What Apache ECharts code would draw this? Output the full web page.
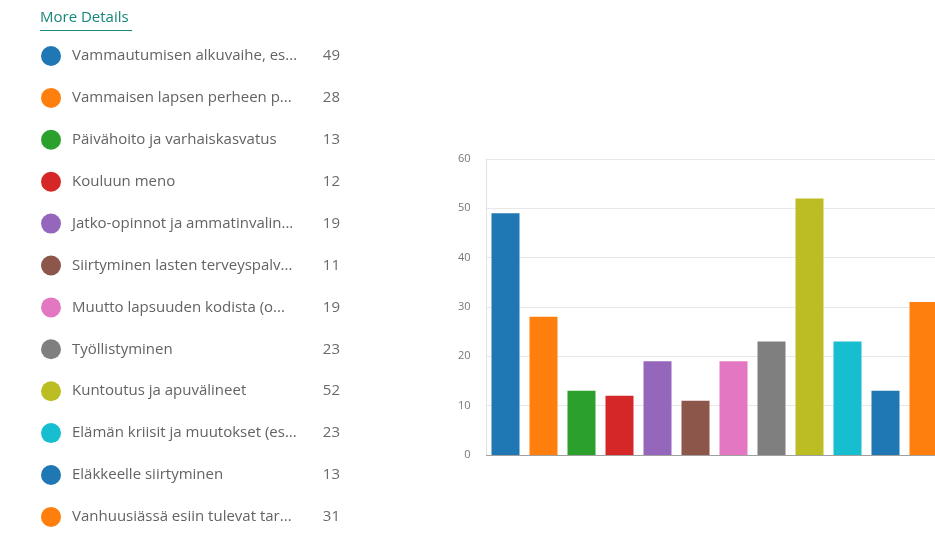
<!DOCTYPE html>
<html>
<head>
<meta charset="utf-8">
<script src="https://cdn.jsdelivr.net/npm/echarts@6/dist/echarts.min.js"></script>
<style>
html,body{margin:0;padding:0;background:#fff;}
#main{width:935px;height:537px;}
</style>
</head>
<body>
<div id="main"></div>
<script>
var categories = [
  "Vammautumisen alkuvaihe, es...",
  "Vammaisen lapsen perheen p...",
  "Päivähoito ja varhaiskasvatus",
  "Kouluun meno",
  "Jatko-opinnot ja ammatinvalin...",
  "Siirtyminen lasten terveyspalv...",
  "Muutto lapsuuden kodista (o...",
  "Työllistyminen",
  "Kuntoutus ja apuvälineet",
  "Elämän kriisit ja muutokset (es...",
  "Eläkkeelle siirtyminen",
  "Vanhuusiässä esiin tulevat tar..."
];
var values = [49, 28, 13, 12, 19, 11, 19, 23, 52, 23, 13, 31];
var colors = ["#1f77b4","#ff7f0e","#2ca02c","#d62728","#9467bd","#8c564b","#e377c2","#7f7f7f","#bcbd22","#17becf","#1f77b4","#ff7f0e"];
var yTicks = [0, 10, 20, 30, 40, 50, 60];

var chart = echarts.init(document.getElementById('main'), null, {renderer:'canvas'});

var series = categories.map(function(name, i){
  var d = categories.map(function(_, j){ return j === i ? values[i] : null; });
  return {
    name: name,
    type: 'bar',
    stack: 'all',
    barWidth: 28,
    data: d,
    itemStyle: {color: colors[i]},
    emphasis: {disabled: true}
  };
});

var valueByName = {};
categories.forEach(function(c, i){ valueByName[c] = values[i]; });

chart.setOption({
  animation: false,
  color: colors,
  grid: {left: 486.5, width: 456, top: 159, height: 296, containLabel: false, outerBoundsMode: 'none'},
  legend: {
    orient: 'vertical',
    left: 41,
    top: 46,
    padding: 0,
    icon: 'circle',
    itemWidth: 20,
    itemHeight: 20,
    itemGap: 21.9,
    selectedMode: false,
    data: categories,
    formatter: function(name){
      return '{n|' + name + '}{v|' + valueByName[name] + '}';
    },
    textStyle: {
      fontFamily: 'Open Sans',
      fontSize: 15,
      color: '#636363',
      padding: [0, 0, 0, 6],
      rich: {
        n: {width: 245, fontFamily: 'Open Sans', fontSize: 15, color: '#636363'},
        v: {width: 23, align: 'right', fontFamily: 'Open Sans', fontSize: 15, color: '#6a6a6a'}
      }
    }
  },
  graphic: [
    {type: 'text', left: 40, top: 10, style: {text: 'More Details', fontFamily: 'Open Sans', fontSize: 15, fill: '#16877a'}},
    {type: 'rect', left: 40, top: 30, shape: {width: 92, height: 1}, style: {fill: '#16877a'}}
  ],
  xAxis: {
    type: 'category',
    data: categories,
    axisLine: {show: true, lineStyle: {color: '#a0a0a0', width: 1}},
    axisTick: {show: false},
    axisLabel: {show: false},
    splitLine: {show: false}
  },
  yAxis: {
    type: 'value',
    min: yTicks[0],
    max: yTicks[yTicks.length - 1],
    interval: yTicks[1] - yTicks[0],
    axisLine: {show: true, lineStyle: {color: '#e2e2e2'}},
    axisTick: {show: false},
    axisLabel: {margin: 16, fontFamily: 'Open Sans', fontSize: 11, color: '#777'},
    splitLine: {lineStyle: {color: '#e8e8e8'}}
  },
  series: series
});
</script>
</body>
</html>
